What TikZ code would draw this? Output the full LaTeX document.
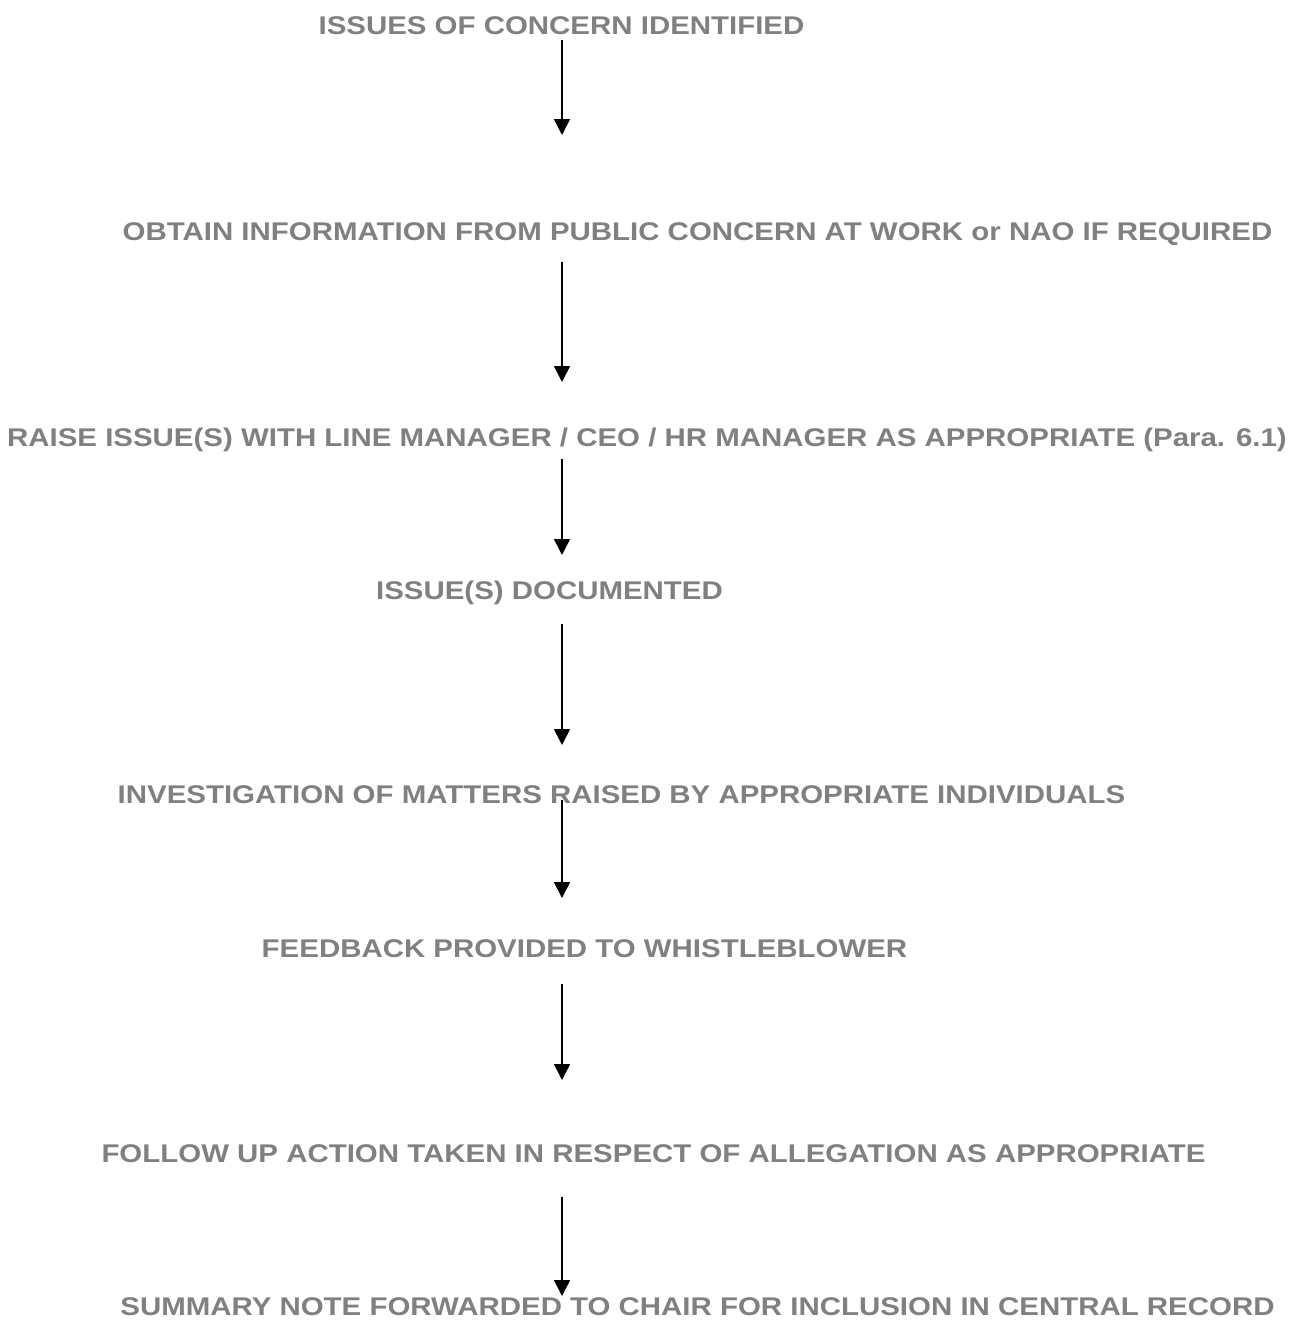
\documentclass[tikz,border=0pt]{standalone}
\usepackage{fontspec}
\newfontfamily\lblfont[FakeStretch=1.15]{Liberation Sans}
\usetikzlibrary{arrows.meta}
\definecolor{txtgray}{HTML}{808080}
\begin{document}
\begin{tikzpicture}[x=1pt,y=-1pt,
  lbl/.style={anchor=base,inner sep=0pt,text=txtgray,font=\lblfont\bfseries\fontsize{25.6}{30}\selectfont},
  flow/.style={line width=1.6pt,-{Triangle[length=16pt,width=16pt]}}]
\useasboundingbox (0,0) rectangle (1289,1320);
\node[lbl] (t1) at (561.5,34) {ISSUES OF CONCERN IDENTIFIED};
\node[lbl] (t2) at (697.5,240) {OBTAIN INFORMATION FROM PUBLIC CONCERN AT WORK or NAO IF REQUIRED};
\node[lbl] (t3) at (647,446) {RAISE ISSUE(S) WITH LINE MANAGER / CEO / HR MANAGER AS APPROPRIATE (Para. 6.1)};
\node[lbl] (t4) at (549.5,599) {ISSUE(S) DOCUMENTED};
\node[lbl] (t5) at (621.5,803) {INVESTIGATION OF MATTERS RAISED BY APPROPRIATE INDIVIDUALS};
\node[lbl] (t6) at (584.5,957) {FEEDBACK PROVIDED TO WHISTLEBLOWER};
\node[lbl] (t7) at (653.5,1162) {FOLLOW UP ACTION TAKEN IN RESPECT OF ALLEGATION AS APPROPRIATE};
\node[lbl] (t8) at (697.5,1315) {SUMMARY NOTE FORWARDED TO CHAIR FOR INCLUSION IN CENTRAL RECORD};
\coordinate (a1s) at (562,40);   \coordinate (a1e) at (562,135);
\coordinate (a2s) at (562,262);  \coordinate (a2e) at (562,382);
\coordinate (a3s) at (562,459);  \coordinate (a3e) at (562,555);
\coordinate (a4s) at (562,624);  \coordinate (a4e) at (562,745);
\coordinate (a5s) at (562,800);  \coordinate (a5e) at (562,898);
\coordinate (a6s) at (562,984);  \coordinate (a6e) at (562,1080);
\coordinate (a7s) at (562,1197); \coordinate (a7e) at (562,1296);
\foreach \i in {1,...,7} \draw[flow] (a\i s) -- (a\i e);
\end{tikzpicture}
\end{document}
